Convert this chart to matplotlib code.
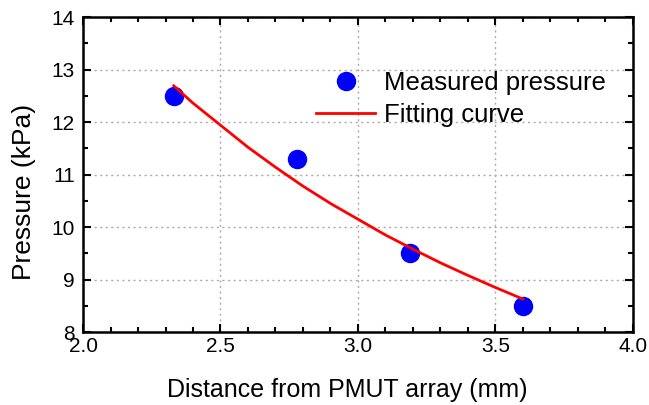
import matplotlib
matplotlib.use("Agg")
import matplotlib.pyplot as plt
from matplotlib.ticker import MultipleLocator, FormatStrFormatter

plt.rcParams['font.family'] = ['Liberation Sans', 'DejaVu Sans']

# measured points
distance = [2.33, 2.78, 3.19, 3.60]
pressure = [12.5, 11.3, 9.5, 8.5]

# fitting curve
fit_x = [2.33, 2.4, 2.5, 2.6, 2.7, 2.8, 2.9, 3.0, 3.1, 3.2, 3.3, 3.4, 3.5, 3.6]
fit_y = [12.69, 12.36, 11.94, 11.52, 11.14, 10.78, 10.45, 10.15, 9.85, 9.58, 9.32, 9.08, 8.85, 8.63]

fig = plt.figure(figsize=(6.49, 4.05), dpi=100)
ax = fig.add_axes([0.128, 0.180, 0.847, 0.778])

ax.plot(distance, pressure, 'o', color='#0000ff', markersize=13, label='Measured pressure', zorder=3)
ax.plot(fit_x, fit_y, '-', color='#ff0000', linewidth=2, label='Fitting curve', zorder=4)

ax.set_xlim(2.0, 4.0)
ax.set_ylim(8, 14)
ax.xaxis.set_major_locator(MultipleLocator(0.5))
ax.xaxis.set_minor_locator(MultipleLocator(0.1))
ax.yaxis.set_major_locator(MultipleLocator(1))
ax.yaxis.set_minor_locator(MultipleLocator(0.5))
ax.xaxis.set_major_formatter(FormatStrFormatter('%.1f'))

ax.tick_params(which='both', direction='in', top=True, right=True, width=1.5, labelsize=15)
ax.tick_params(which='major', length=6)
ax.tick_params(which='minor', length=3.5)
ax.tick_params(axis='y', pad=6)
for s in ax.spines.values():
    s.set_linewidth(1.8)

ax.grid(True, which='major', linestyle=(0, (1.5, 2.5)), color='#aaaaaa', linewidth=1)

ax.set_xlabel('Distance from PMUT array (mm)', fontsize=18)
ax.set_ylabel('Pressure (kPa)', fontsize=19)
ax.xaxis.set_label_coords(0.48, -0.145)
ax.yaxis.set_label_coords(-0.085, 0.444)

ax.legend(loc='upper left', bbox_to_anchor=(0.405, 0.86), frameon=False, fontsize=18.5,
          handlelength=2.3, handletextpad=0.35, labelspacing=0.3, borderaxespad=0)

fig.savefig('out.png', dpi=100)
